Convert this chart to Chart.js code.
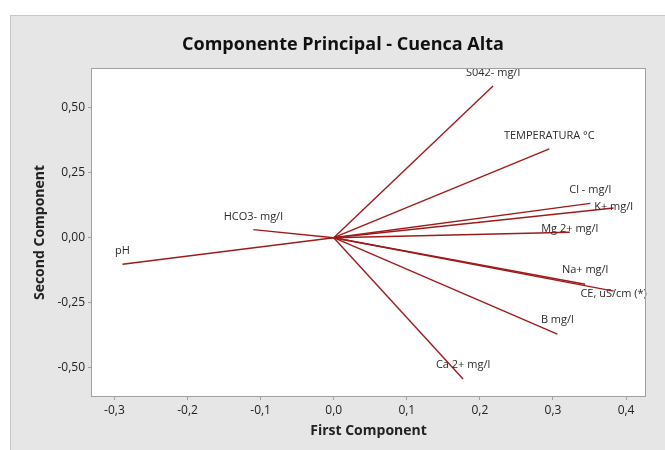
<!DOCTYPE html>
<html>
<head>
<meta charset="utf-8">
<script src="https://cdn.jsdelivr.net/npm/chart.js@4.4.1/dist/chart.umd.min.js"></script>
<style>
  html, body { margin: 0; padding: 0; background: #fff; }
  canvas { display: block; }
</style>
</head>
<body>
<canvas id="pcaChart" width="665" height="450"></canvas>
<script>
// loadings
const variables = ['S042- mg/l', 'TEMPERATURA °C', 'Cl - mg/l', 'K+ mg/l', 'Mg 2+ mg/l',
  'Na+ mg/l', 'CE, uS/cm (*)', 'B mg/l', 'Ca 2+ mg/l', 'HCO3- mg/l', 'pH'];
const firstComp = [0.218, 0.295, 0.351, 0.383, 0.323, 0.344, 0.383, 0.306, 0.177, -0.110, -0.289];
const secondComp = [0.583, 0.341, 0.132, 0.114, 0.021, -0.179, -0.205, -0.370, -0.543, 0.031, -0.102];
const xTicks = [-0.3, -0.2, -0.1, 0.0, 0.1, 0.2, 0.3, 0.4];
const yTicks = [-0.50, -0.25, 0.00, 0.25, 0.50];
const chartTitle = 'Componente Principal - Cuenca Alta';

// vertical nudge of each label relative to its line end (px)
const labelShift = [-13, -13, -13, -1, -3, -14, 3, -14, -14, -13, -13];

const lineColor = '#9e1b1b';
const fontFamily = '"Open Sans", "Noto Sans", sans-serif';

const datasets = variables.map((name, i) => ({
  label: name,
  data: [{ x: 0, y: 0 }, { x: firstComp[i], y: secondComp[i] }],
  showLine: true,
  borderColor: lineColor,
  borderWidth: 1.4,
  pointRadius: 0,
  pointHoverRadius: 0
}));

const backdrop = {
  id: 'backdrop',
  beforeDraw(chart) {
    const { ctx, chartArea: a } = chart;
    ctx.save();
    ctx.fillStyle = '#e6e6e6';
    ctx.fillRect(10, 15, chart.width - 10, chart.height - 15);
    ctx.strokeStyle = '#c8c8c8';
    ctx.lineWidth = 1;
    ctx.strokeRect(10.5, 15.5, chart.width, chart.height);
    ctx.fillStyle = '#fff';
    ctx.fillRect(a.left, a.top, a.right - a.left, a.bottom - a.top);
    // title sits centred on the grey panel rather than the canvas
    ctx.font = 'bold 18px ' + fontFamily;
    ctx.fillStyle = '#111';
    ctx.textAlign = 'center';
    ctx.textBaseline = 'middle';
    ctx.fillText(chartTitle, 343, 45);
    ctx.restore();
  },
  afterDraw(chart) {
    const { ctx, chartArea: a } = chart;
    ctx.save();
    ctx.strokeStyle = '#a0a0a0';
    ctx.lineWidth = 1;
    ctx.strokeRect(Math.round(a.left) - 0.5, Math.round(a.top) - 0.5,
      Math.round(a.right - a.left) + 1, Math.round(a.bottom - a.top) + 1);
    ctx.restore();
  }
};

const endLabels = {
  id: 'endLabels',
  afterDatasetsDraw(chart) {
    const { ctx, scales } = chart;
    ctx.save();
    ctx.font = '11px ' + fontFamily;
    ctx.fillStyle = '#2b2b2b';
    ctx.textAlign = 'center';
    ctx.textBaseline = 'middle';
    variables.forEach((name, i) => {
      const px = scales.x.getPixelForValue(firstComp[i]);
      const py = scales.y.getPixelForValue(secondComp[i]);
      ctx.fillText(name, px, py + labelShift[i]);
    });
    ctx.restore();
  }
};

new Chart(document.getElementById('pcaChart'), {
  type: 'scatter',
  data: { datasets },
  options: {
    responsive: false,
    animation: false,
    layout: { padding: { left: 10, right: 20, top: 69, bottom: 0 } },
    plugins: {
      legend: { display: false },
      tooltip: { enabled: false },
      title: { display: false }
    },
    scales: {
      x: {
        type: 'linear',
        min: -0.3307,
        max: 0.4259,
        afterFit: s => { s.height = 54; },
        afterBuildTicks: s => { s.ticks = xTicks.map(v => ({ value: v })); },
        ticks: {
          padding: 3,
          color: '#222',
          font: { family: fontFamily, size: 12 },
          callback: v => v.toFixed(1).replace('.', ',')
        },
        grid: { drawOnChartArea: false, drawTicks: true, tickLength: 4, color: '#a0a0a0' },
        border: { display: false },
        title: {
          display: true,
          text: 'First Component',
          color: '#222',
          font: { family: fontFamily, size: 14, weight: 'bold' },
          padding: { top: 0, bottom: 11 }
        }
      },
      y: {
        type: 'linear',
        min: -0.608,
        max: 0.648,
        afterFit: s => { s.width = 82; },
        afterBuildTicks: s => { s.ticks = yTicks.map(v => ({ value: v })); },
        ticks: {
          padding: 3,
          color: '#222',
          font: { family: fontFamily, size: 12 },
          callback: v => v.toFixed(2).replace('.', ',')
        },
        grid: { drawOnChartArea: false, drawTicks: true, tickLength: 4, color: '#a0a0a0' },
        border: { display: false },
        title: {
          display: true,
          text: 'Second Component',
          color: '#222',
          font: { family: fontFamily, size: 14, weight: 'bold' },
          padding: { top: 22, bottom: 0 }
        }
      }
    }
  },
  plugins: [backdrop, endLabels]
});
</script>
</body>
</html>
